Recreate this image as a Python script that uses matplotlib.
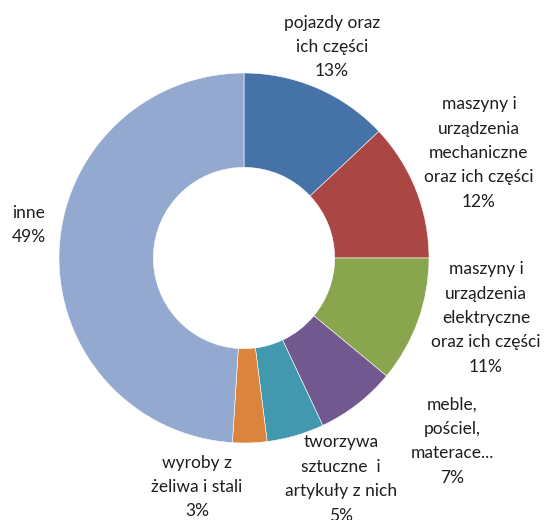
"""
Donut chart: structure of goods groups (share, %).
"""

import matplotlib
matplotlib.use('Agg')
import matplotlib.pyplot as plt


# ── Data ─────────────────────────────────────────────────────────────────────

labels = [
    'pojazdy oraz\nich części',
    'maszyny i\nurządzenia\nmechaniczne\noraz ich części',
    'maszyny i\nurządzenia\nelektryczne\noraz ich części',
    'meble,\npościel,\nmaterace...',
    'tworzywa\nsztuczne  i\nartykuły z nich',
    'wyroby z\nżeliwa i stali',
    'inne',
]
shares = [13, 12, 11, 7, 5, 3, 49]

COLOURS = ['#4572A7', '#AA4643', '#89A54E', '#71588F',
           '#4198AF', '#DB843D', '#93A9CF']

# label anchor positions in pixels (x, y from top) and alignment
LABEL_POS = [
    (332, 47, 'center'),
    (479, 153, 'center'),
    (486, 318, 'center'),
    (452, 441, 'center'),
    (341, 479, 'center'),
    (197, 487, 'center'),
    (12, 225, 'left'),
]

W, H = 545, 520
CX, CY, R = 244, 258, 185


# ── Plot ─────────────────────────────────────────────────────────────────────

plt.rcParams['font.family'] = ['Lato', 'DejaVu Sans']

fig = plt.figure(figsize=(W / 100, H / 100), dpi=100)
ax = fig.add_axes([(CX - R) / W, (H - CY - R) / H, 2 * R / W, 2 * R / H])

ax.pie(shares, colors=COLOURS, startangle=90, counterclock=False,
       radius=1.0,
       wedgeprops=dict(width=0.51, edgecolor='white', linewidth=0.4))
ax.set_xlim(-1, 1)
ax.set_ylim(-1, 1)
ax.set_aspect('equal')
ax.axis('off')

for lab, val, (px, py, ha) in zip(labels, shares, LABEL_POS):
    fig.text(px / W, 1 - py / H, f'{lab}\n{val}%', ha=ha, va='center',
             multialignment=ha, fontsize=12.5, color='#1e1e1e',
             linespacing=1.65)

fig.savefig('out.png', dpi=100)
